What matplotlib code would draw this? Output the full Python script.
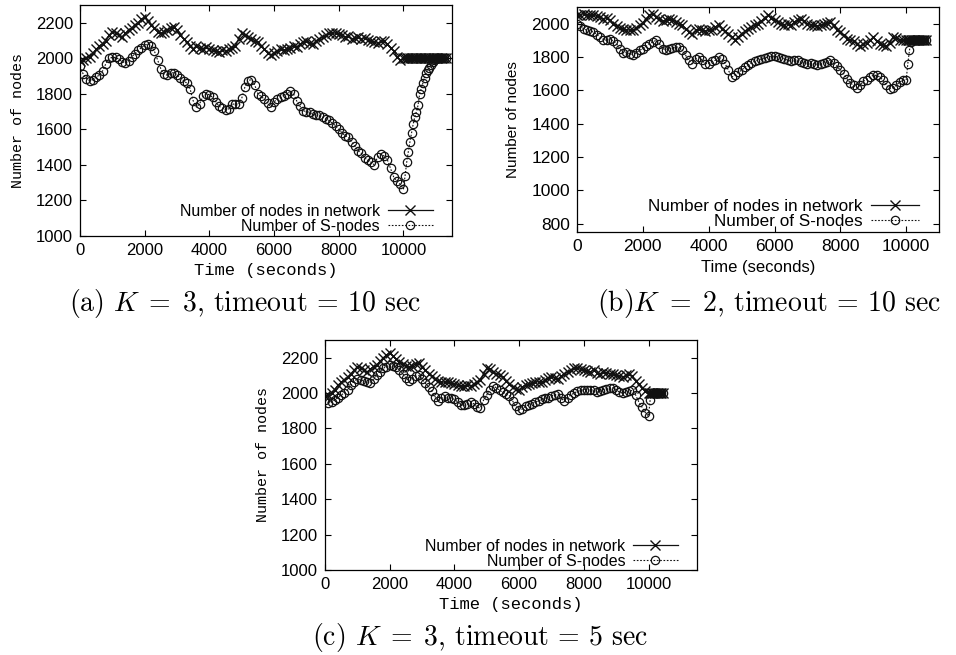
import numpy as np
import matplotlib
matplotlib.use("Agg")
import matplotlib.pyplot as plt

# time stamps (seconds): 100 s steps up to 10000, 50 s steps after
t_a = list(range(0, 10000, 100)) + list(range(10000, 11350, 50))
t_b = list(range(0, 10000, 100)) + list(range(10000, 10650, 50))
t_c = list(range(0, 10000, 100)) + list(range(10000, 10500, 50))

# (a) K = 3, timeout = 10 sec
net_a = [1985, 1990, 2000, 2010, 2030, 2050, 2070, 2080, 2100, 2130,
         2150, 2140, 2130, 2120, 2140, 2160, 2170, 2190, 2200, 2220,
         2230, 2210, 2190, 2170, 2150, 2140, 2150, 2160, 2170, 2175,
         2160, 2130, 2110, 2090, 2070, 2055, 2070, 2060, 2055, 2065,
         2050, 2045, 2040, 2035, 2045, 2040, 2050, 2060, 2070, 2110,
         2140, 2130, 2120, 2110, 2100, 2090, 2070, 2050, 2030, 2020,
         2030, 2040, 2050, 2045, 2055, 2060, 2070, 2065, 2080, 2090,
         2095, 2085, 2080, 2100, 2110, 2120, 2130, 2140, 2145, 2140,
         2135, 2130, 2120, 2125, 2110, 2115, 2120, 2110, 2115, 2105,
         2100, 2090, 2085, 2095, 2100, 2080, 2060, 2040, 2010, 1990,
         2000, 2000, 2000, 2000, 2000, 2000, 2000, 2000, 2000, 2000,
         2000, 2000, 2000, 2000, 2000, 2000, 2000, 2000, 2000, 2000,
         2000, 2000, 2000, 2000, 2000, 2000, 2000]
snodes_a = [1955, 1910, 1885, 1875, 1880, 1895, 1905, 1930, 1970, 2000,
            2005, 2005, 1995, 1980, 1975, 1985, 2010, 2025, 2045, 2060,
            2075, 2080, 2070, 2040, 1990, 1940, 1910, 1905, 1915, 1920,
            1905, 1890, 1875, 1860, 1830, 1760, 1725, 1745, 1785, 1800,
            1795, 1780, 1755, 1730, 1720, 1710, 1715, 1740, 1745, 1740,
            1775, 1840, 1875, 1880, 1850, 1800, 1785, 1770, 1750, 1725,
            1755, 1770, 1780, 1790, 1800, 1815, 1800, 1760, 1730, 1705,
            1700, 1695, 1685, 1680, 1680, 1670, 1660, 1650, 1635, 1620,
            1600, 1580, 1565, 1555, 1530, 1505, 1480, 1465, 1440, 1425,
            1415, 1400, 1445, 1460, 1450, 1430, 1380, 1330, 1310, 1290,
            1265, 1340, 1415, 1475, 1530, 1580, 1630, 1670, 1700, 1735,
            1800, 1830, 1860, 1890, 1920, 1935, 1945, 1960, 1980, 1990,
            1995, 2000, 2000, 2000, 2000, 2000, 2000]

# (b) K = 2, timeout = 10 sec
net_b = [2050, 2055, 2060, 2055, 2050, 2050, 2045, 2040, 2030, 2035,
         2020, 2000, 1985, 1975, 1970, 1965, 1960, 1960, 1975, 1990,
         2005, 2030, 2050, 2060, 2040, 2030, 2015, 2020, 2030, 2025,
         2010, 2000, 1990, 1970, 1950, 1940, 1960, 1970, 1960, 1955,
         1960, 1965, 1980, 1990, 1970, 1955, 1940, 1920, 1905, 1920,
         1940, 1955, 1970, 1980, 1995, 2000, 2015, 2035, 2050, 2035,
         2020, 2010, 2000, 1995, 2000, 1990, 2010, 2020, 2030, 2015,
         2000, 1995, 1990, 1985, 1990, 2000, 2005, 2010, 1990, 1965,
         1950, 1930, 1910, 1900, 1895, 1880, 1865, 1880, 1885, 1900,
         1920, 1895, 1880, 1870, 1865, 1885, 1920, 1915, 1905, 1900,
         1900, 1900, 1900, 1900, 1900, 1900, 1900, 1900, 1900, 1900,
         1900, 1900, 1900]
snodes_b = [2000, 1985, 1970, 1960, 1955, 1950, 1935, 1920, 1905, 1900,
            1910, 1895, 1880, 1850, 1825, 1830, 1820, 1815, 1825, 1840,
            1850, 1865, 1880, 1890, 1900, 1880, 1850, 1845, 1850, 1855,
            1860, 1860, 1840, 1810, 1780, 1760, 1790, 1800, 1780, 1760,
            1760, 1775, 1780, 1800, 1790, 1760, 1720, 1680, 1690, 1710,
            1720, 1740, 1750, 1765, 1775, 1780, 1790, 1795, 1800, 1805,
            1805, 1800, 1795, 1790, 1780, 1775, 1780, 1785, 1770, 1765,
            1760, 1765, 1760, 1755, 1760, 1765, 1770, 1785, 1765, 1745,
            1720, 1700, 1670, 1645, 1630, 1615, 1630, 1655, 1665, 1680,
            1690, 1690, 1680, 1660, 1630, 1610, 1615, 1630, 1650, 1660,
            1660, 1760, 1840, 1890, 1900, 1900, 1900, 1900, 1900, 1900,
            1900, 1900, 1900]

# (c) K = 3, timeout = 5 sec
net_c = [1985, 1990, 2000, 2020, 2045, 2060, 2075, 2090, 2110, 2130,
         2150, 2140, 2130, 2120, 2135, 2150, 2160, 2180, 2200, 2215,
         2225, 2210, 2190, 2175, 2165, 2155, 2150, 2155, 2165, 2170,
         2150, 2130, 2110, 2095, 2080, 2070, 2065, 2060, 2065, 2055,
         2050, 2045, 2040, 2040, 2045, 2040, 2050, 2060, 2075, 2110,
         2140, 2135, 2120, 2110, 2100, 2090, 2070, 2050, 2035, 2025,
         2020, 2035, 2045, 2050, 2055, 2060, 2065, 2060, 2075, 2085,
         2090, 2085, 2080, 2095, 2110, 2120, 2130, 2140, 2140, 2135,
         2130, 2125, 2120, 2130, 2115, 2110, 2120, 2115, 2110, 2110,
         2100, 2095, 2090, 2100, 2110, 2095, 2070, 2050, 2030, 2010,
         2000, 2000, 2000, 2000, 2000, 2000, 2000, 2000, 2000, 2000]
snodes_c = [1960, 1945, 1950, 1960, 1975, 1990, 2000, 2020, 2045, 2065,
            2080, 2075, 2070, 2060, 2055, 2080, 2105, 2120, 2140, 2150,
            2160, 2155, 2145, 2130, 2110, 2085, 2070, 2080, 2095, 2100,
            2080, 2055, 2035, 2010, 1980, 1955, 1970, 1985, 1975, 1970,
            1965, 1950, 1935, 1930, 1940, 1950, 1940, 1920, 1915, 1960,
            1990, 2020, 2040, 2030, 2015, 2005, 1995, 1985, 1955, 1925,
            1905, 1910, 1925, 1935, 1940, 1950, 1955, 1965, 1970, 1975,
            1985, 1990, 1995, 1970, 1955, 1975, 1990, 2000, 2010, 2015,
            2020, 2020, 2015, 2020, 2005, 2010, 2020, 2025, 2030, 2030,
            2020, 2005, 2000, 2005, 2010, 2015, 1990, 1950, 1920, 1890,
            1870, 1960, 2000, 2000, 2000, 2000, 2000, 2000, 2000, 2000]

label_net = "Number of nodes in network"
label_s = "Number of S-nodes"
xticks = [0, 2000, 4000, 6000, 8000, 10000]


def draw_panel(ax, t, net, snodes, ylim, yticks, xlim, label_family,
               tick_size, leg_size, xl_size, yl_size, ylpad, leg_anchor):
    ax.plot(t, net, color="#111111", linestyle="-", linewidth=0.9,
            marker="x", markersize=7, markeredgewidth=1.0, label=label_net)
    ax.plot(t, snodes, color="#111111", linestyle=(0, (1.5, 1.5)), linewidth=0.8,
            marker="o", markersize=6, markerfacecolor="none",
            markeredgewidth=0.9, label=label_s)
    ax.set_xlim(xlim)
    ax.set_ylim(ylim)
    ax.set_xticks(xticks)
    ax.set_yticks(yticks)
    ax.tick_params(direction="in", top=True, right=True, length=4,
                   width=0.8, labelsize=tick_size, pad=5)
    for lab in ax.get_xticklabels() + ax.get_yticklabels():
        lab.set_family("Liberation Sans")
    for sp in ax.spines.values():
        sp.set_linewidth(0.9)
    ax.set_xlabel("Time (seconds)", family=label_family, fontsize=xl_size, labelpad=4)
    ax.set_ylabel("Number of nodes", family=label_family, fontsize=yl_size, labelpad=ylpad)
    ax.legend(loc="lower right", bbox_to_anchor=leg_anchor, frameon=False,
              markerfirst=False, handlelength=2.8, handletextpad=0.5,
              labelspacing=0.0, borderaxespad=0.3,
              prop={"family": "Liberation Sans", "size": leg_size})


plt.rcParams["mathtext.fontset"] = "cm"

fig = plt.figure(figsize=(9.56, 6.55), dpi=100)

ax_a = fig.add_axes([0.0837, 0.6397, 0.3891, 0.3527])
draw_panel(ax_a, t_a, net_a, snodes_a, (1000, 2300),
           [1000, 1200, 1400, 1600, 1800, 2000, 2200], (0, 11500), "Liberation Mono",
           12, 11.5, 12.3, 10.8, 8, (1 - 8 / 372, -9 / 231))

ax_b = fig.add_axes([0.6036, 0.6458, 0.3787, 0.3435])
draw_panel(ax_b, t_b, net_b, snodes_b, (750, 2100),
           [800, 1000, 1200, 1400, 1600, 1800, 2000], (0, 11000), "Liberation Sans",
           12.5, 12.3, 12, 11, 8, (1 - 8 / 362, -9 / 225))

ax_c = fig.add_axes([0.3400, 0.1298, 0.3891, 0.3511])
draw_panel(ax_c, t_c, net_c, snodes_c, (1000, 2300),
           [1000, 1200, 1400, 1600, 1800, 2000, 2200], (0, 11500), "Liberation Mono",
           12, 11.5, 12.3, 10.8, 8, (1 - 8 / 372, -10 / 230))

cap_kw = dict(family="cmr10", fontsize=20, ha="center", va="center")
fig.text(245 / 956, 1 - 303 / 655, r"(a) $K\;=\;3$, timeout = 10 sec", **cap_kw)
fig.text(769 / 956, 1 - 303 / 655, r"(b)$K\;=\;2$, timeout = 10 sec", **cap_kw)
fig.text(480 / 956, 1 - 638 / 655, r"(c) $K\;=\;3$, timeout = 5 sec", **cap_kw)

fig.savefig("out.png", dpi=100)
